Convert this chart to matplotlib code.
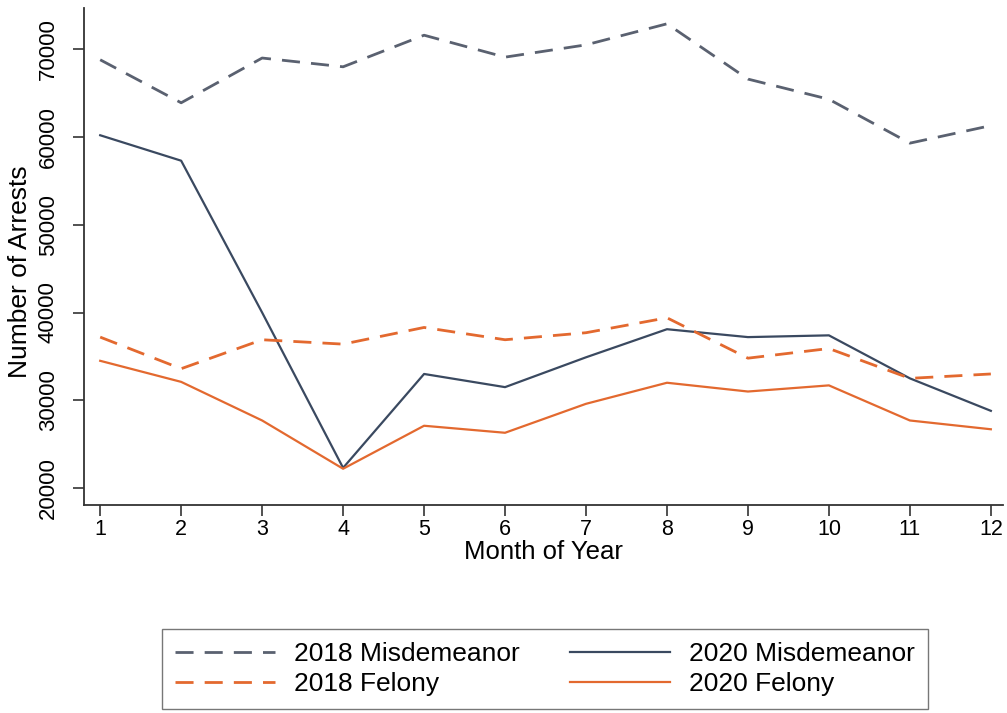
import matplotlib
matplotlib.use("Agg")
import matplotlib.pyplot as plt

months = [1, 2, 3, 4, 5, 6, 7, 8, 9, 10, 11, 12]
misd_2018 = [68800, 63900, 69000, 68000, 71600, 69100, 70500, 72900, 66600, 64300, 59300, 61300]
misd_2020 = [60200, 57300, 40000, 22300, 33000, 31500, 34900, 38100, 37200, 37400, 32500, 28800]
fel_2018 = [37200, 33600, 36900, 36400, 38300, 36900, 37700, 39400, 34800, 35900, 32500, 33000]
fel_2020 = [34500, 32100, 27700, 22200, 27100, 26300, 29600, 32000, 31000, 31700, 27700, 26700]
yticks = [20000, 30000, 40000, 50000, 60000, 70000]

plt.rcParams['font.family'] = ['Liberation Sans', 'DejaVu Sans']

fig = plt.figure(figsize=(10.07, 7.13), dpi=100)
ax = fig.add_axes([84/1007, 1 - 505/713, (1003 - 84)/1007, (505 - 8)/713])

navy = '#3a4960'
gray = '#5a6170'
orange = '#e3692f'

ax.plot(months, misd_2018, color=gray, lw=2.0, ls=(0, (6.5, 4)), label='2018 Misdemeanor')
ax.plot(months, misd_2020, color=navy, lw=1.6, ls='-', label='2020 Misdemeanor')
ax.plot(months, fel_2018, color=orange, lw=2.0, ls=(0, (6.5, 4)), label='2018 Felony')
ax.plot(months, fel_2020, color=orange, lw=1.6, ls='-', label='2020 Felony')

ax.set_xlim(0.8, 12.15)
ax.set_ylim(18070, 74700)
ax.set_xticks(months)
ax.set_yticks(yticks)
ax.set_yticklabels([str(v) for v in yticks], rotation=90, va='center')
ax.tick_params(axis='both', direction='out', length=8, width=1.2, color='#333333')
ax.tick_params(axis='x', pad=2, labelsize=15.5)
ax.tick_params(axis='y', pad=10, labelsize=16)
for s in ['top', 'right']:
    ax.spines[s].set_visible(False)
for s in ['left', 'bottom']:
    ax.spines[s].set_color('#333333')
    ax.spines[s].set_linewidth(1.3)

ax.set_xlabel('Month of Year', fontsize=18.5, labelpad=0)
ax.set_ylabel('Number of Arrests', fontsize=19)
ax.yaxis.set_label_coords(-0.057, 0.47)

handles, labels = ax.get_legend_handles_labels()
order = [0, 2, 1, 3]
leg = fig.legend([handles[i] for i in order], [labels[i] for i in order], ncol=2,
                 loc='center', bbox_to_anchor=(545/1007, 1 - 669/713), fontsize=19,
                 frameon=True, fancybox=False, edgecolor='#555555', handlelength=3.8,
                 columnspacing=1.9, handletextpad=0.72, borderpad=0.5, labelspacing=0.22)
leg.get_frame().set_linewidth(1.0)

fig.savefig('out.png', dpi=100, facecolor='white')
